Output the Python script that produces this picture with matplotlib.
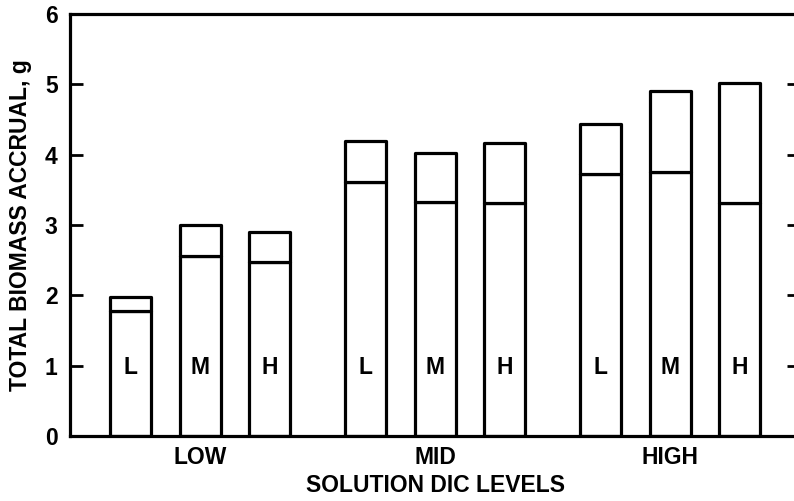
"""Total biomass accrual by solution DIC level, stacked bars."""
import matplotlib.pyplot as plt
import numpy as np

groups = ["LOW", "MID", "HIGH"]
bar_labels = ["L", "M", "H"] * 3

# lower segment height and total bar height, g
lower = [1.78, 2.56, 2.48, 3.61, 3.33, 3.31, 3.72, 3.75, 3.32]
total = [1.98, 3.00, 2.90, 4.20, 4.03, 4.17, 4.44, 4.91, 5.02]

plt.rcParams['font.family'] = ['Liberation Sans', 'DejaVu Sans']
plt.rcParams['font.weight'] = 'bold'

group_step = 3.38
x = np.array([g * group_step + i for g in range(3) for i in range(3)])
upper = np.array(total) - np.array(lower)

fig = plt.figure(figsize=(7.94, 5.01), dpi=100)
ax = fig.add_axes([0.0882, 0.1297, 0.9194, 0.8423])

lw = 2.3
ax.bar(x, lower, width=0.59, color='white', edgecolor='black',
       linewidth=lw, joinstyle='round')
ax.bar(x, upper, bottom=lower, width=0.59, color='white',
       edgecolor='black', linewidth=lw, joinstyle='round')

fs = 16.5
for xi, lab in zip(x, bar_labels):
    ax.text(xi, 0.98, lab, ha='center', va='center',
            fontsize=fs, fontweight='bold')

ax.set_xlim(-0.87, 9.63)
ax.set_ylim(0, 6)
ax.set_yticks(range(7))
ax.set_yticklabels([str(v) for v in range(7)], fontsize=fs, fontweight='bold')
ax.set_xticks(x[1::3])
ax.set_xticklabels(groups, fontsize=fs, fontweight='bold')

ax.tick_params(axis='y', direction='in', length=9.5, width=2,
               right=True, pad=9)
ax.tick_params(axis='x', length=0, pad=7)

for s in ax.spines.values():
    s.set_linewidth(2.3)

ax.set_xlabel("SOLUTION DIC LEVELS", fontsize=fs, fontweight='bold',
              labelpad=4)
ax.set_ylabel("TOTAL BIOMASS ACCRUAL, g", fontsize=fs, fontweight='bold',
              labelpad=9)

plt.savefig("out.png", dpi=100, facecolor='white')
plt.close()
